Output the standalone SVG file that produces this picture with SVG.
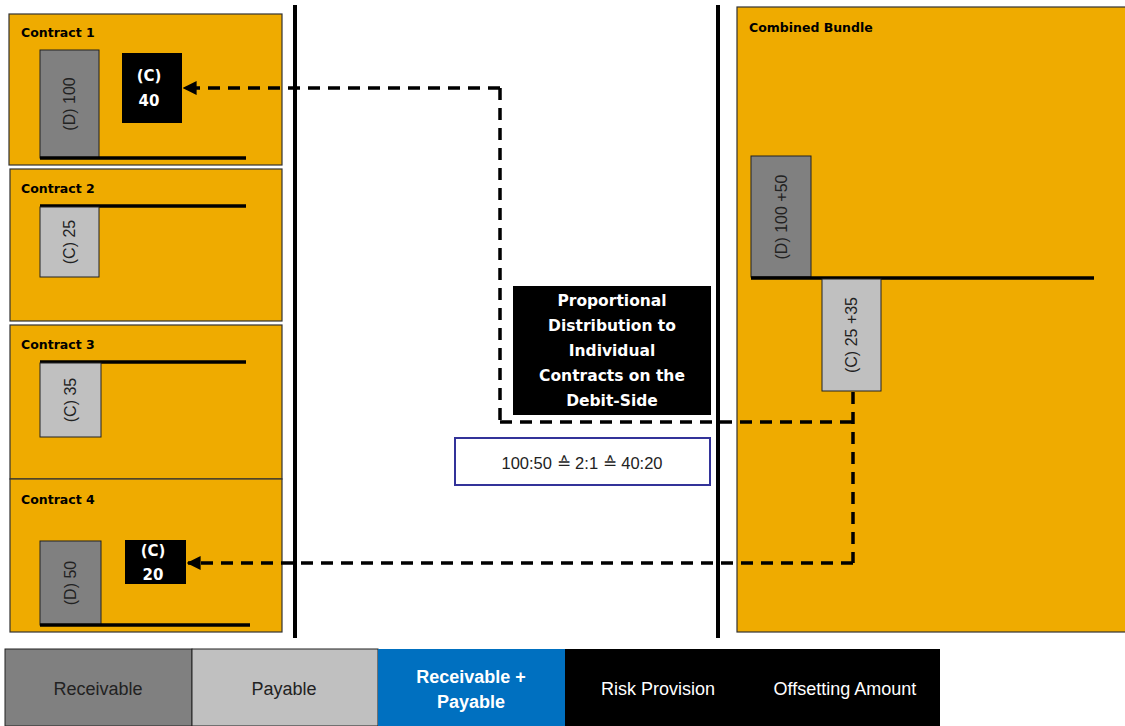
<svg xmlns="http://www.w3.org/2000/svg" width="1125" height="726" viewBox="0 0 1125 726">
<defs>
<style>
.panel{fill:#EFAB00;stroke:#333;stroke-width:1.2}
.recv{fill:#808080;stroke:#222;stroke-width:1}
.pay{fill:#C0C0C0;stroke:#222;stroke-width:1}
.blk{fill:#000}
.base{stroke:#000;stroke-width:3.5;fill:none}
.sep{stroke:#000;stroke-width:4;fill:none}
.dash{stroke:#000;stroke-width:3.5;fill:none;stroke-dasharray:12 8}
.title{font-family:"DejaVu Sans","Liberation Sans",sans-serif;font-weight:bold;font-size:12.5px;fill:#000}
.rot{font-family:"Liberation Sans",Arial,sans-serif;font-size:16px;fill:#222;text-anchor:middle}
.wb{font-family:"DejaVu Sans","Liberation Sans",sans-serif;font-weight:bold;font-size:15.5px;fill:#fff;text-anchor:middle}
.wb2{font-family:"DejaVu Sans","Liberation Sans",sans-serif;font-weight:bold;font-size:15px;fill:#fff;text-anchor:middle}
.leg{font-family:"Liberation Sans",Arial,sans-serif;font-size:18px;text-anchor:middle}
</style>
<marker id="ah" viewBox="0 0 10 10" refX="9" refY="5" markerWidth="4" markerHeight="4" orient="auto-start-reverse" markerUnits="strokeWidth">
<path d="M0,0 L10,5 L0,10 z" fill="#000"/>
</marker>
</defs>
<rect width="1125" height="726" fill="#fff"/>

<g id="contract1">
<rect class="panel" x="9" y="14" width="273" height="151"/>
<text class="title" x="21" y="37">Contract 1</text>
<rect class="recv" x="40" y="50" width="59" height="108"/>
<text class="rot" transform="translate(75,104) rotate(-90)">(D) 100</text>
<line class="base" x1="40" y1="158" x2="246" y2="158"/>
<rect class="blk" x="122" y="53" width="60" height="70"/>
<text class="wb2" x="149" y="81">(C)</text>
<text class="wb2" x="149" y="106">40</text>
</g>

<g id="contract2">
<rect class="panel" x="10" y="169" width="272" height="152"/>
<text class="title" x="21" y="193">Contract 2</text>
<line class="base" x1="40" y1="206" x2="246" y2="206"/>
<rect class="pay" x="40" y="207" width="59" height="70"/>
<text class="rot" transform="translate(75,242) rotate(-90)">(C) 25</text>
</g>

<g id="contract3">
<rect class="panel" x="10" y="325" width="272" height="154"/>
<text class="title" x="21" y="349">Contract 3</text>
<line class="base" x1="40" y1="362" x2="246" y2="362"/>
<rect class="pay" x="40" y="363" width="61" height="74"/>
<text class="rot" transform="translate(76,400) rotate(-90)">(C) 35</text>
</g>

<g id="contract4">
<rect class="panel" x="10" y="479" width="272" height="153"/>
<text class="title" x="21" y="504">Contract 4</text>
<rect class="recv" x="40" y="541" width="61" height="84"/>
<text class="rot" transform="translate(76,583) rotate(-90)">(D) 50</text>
<line class="base" x1="40" y1="625" x2="250" y2="625"/>
<rect class="blk" x="125" y="540" width="61" height="44"/>
<text class="wb2" x="153" y="556">(C)</text>
<text class="wb2" x="153" y="580">20</text>
</g>

<g id="bundle">
<rect class="panel" x="737" y="7" width="395" height="625"/>
<text class="title" x="749" y="32">Combined Bundle</text>
<rect class="recv" x="751" y="156" width="60" height="121"/>
<text class="rot" transform="translate(787,217) rotate(-90)">(D) 100 +50</text>
<line class="base" x1="751" y1="278" x2="1094" y2="278"/>
<rect class="pay" x="822" y="279" width="59" height="112"/>
<text class="rot" transform="translate(857,335) rotate(-90)">(C) 25 +35</text>
</g>

<g id="separators">
<line class="sep" x1="295" y1="5" x2="295" y2="638"/>
<line class="sep" x1="718" y1="5" x2="718" y2="638"/>
</g>

<g id="connectors">
<path class="dash" d="M500,88 L500,422"/>
<path class="dash" d="M500,88 L184,88" marker-end="url(#ah)"/>
<path class="dash" d="M500,422 L853,422"/>
<path class="dash" d="M853,392 L853,563"/>
<path class="dash" d="M853,563 L188,563" marker-end="url(#ah)"/>
</g>

<g id="note">
<rect class="blk" x="513" y="286" width="198" height="129"/>
<text class="wb" x="612" y="306">Proportional</text>
<text class="wb" x="612" y="331">Distribution to</text>
<text class="wb" x="612" y="356">Individual</text>
<text class="wb" x="612" y="381">Contracts on the</text>
<text class="wb" x="612" y="406">Debit-Side</text>
</g>

<g id="ratio">
<rect x="455" y="438" width="255" height="47" fill="#fff" stroke="#333399" stroke-width="2"/>
<text x="582" y="469" font-family="'Liberation Sans',Arial,sans-serif" font-size="16.5" fill="#222" text-anchor="middle">100:50 ≙ 2:1 ≙ 40:20</text>
</g>

<g id="legend">
<rect x="5" y="649" width="187" height="77" fill="#808080" stroke="#222" stroke-width="1"/>
<text class="leg" x="98" y="695" fill="#222">Receivable</text>
<rect x="192" y="649" width="186" height="77" fill="#C0C0C0" stroke="#222" stroke-width="1"/>
<text class="leg" x="284" y="695" fill="#222">Payable</text>
<rect x="378" y="649" width="187" height="77" fill="#0070C0"/>
<text class="leg" x="471" y="683" fill="#fff" font-weight="bold">Receivable +</text>
<text class="leg" x="471" y="708" fill="#fff" font-weight="bold">Payable</text>
<rect x="565" y="649" width="375" height="77" fill="#000"/>
<text class="leg" x="658" y="695" fill="#fff">Risk Provision</text>
<text class="leg" x="845" y="695" fill="#fff">Offsetting Amount</text>
</g>
</svg>
